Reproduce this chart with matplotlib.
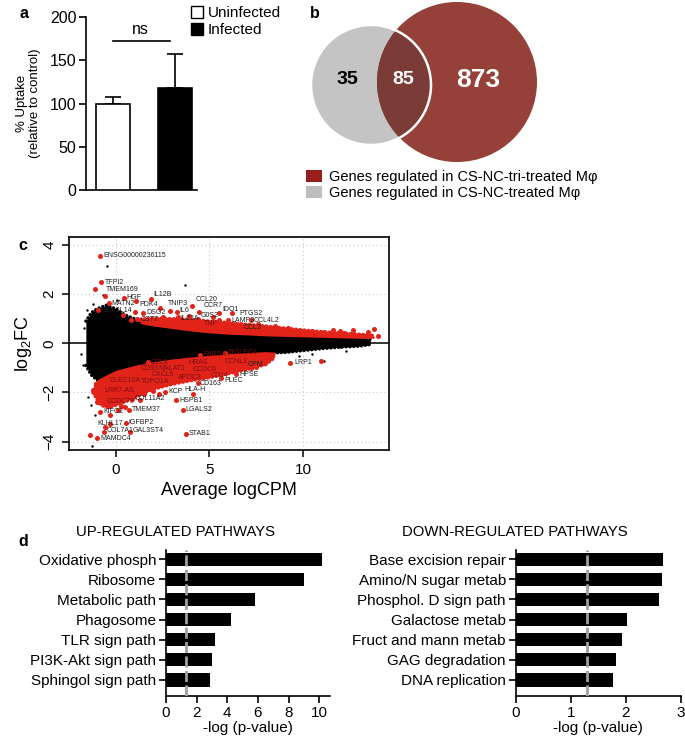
import matplotlib.pyplot as plt
import numpy as np
from matplotlib.patches import Circle, Patch

plt.rcParams['font.family'] = ['Liberation Sans', 'DejaVu Sans']
plt.rcParams['mathtext.fontset'] = 'custom'
plt.rcParams['mathtext.rm'] = 'Liberation Sans'

# ---------------- data ----------------
# panel a
uptake_groups = ['Uninfected', 'Infected']
uptake_mean = [100, 118]
uptake_err = [8, 39]
uptake_colors = ['white', 'black']

# panel b
venn_only_nc = 35
venn_both = 85
venn_only_tri = 873
venn_labels = ['Genes regulated in CS-NC-tri-treated Mφ',
               'Genes regulated in CS-NC-treated Mφ']

# panel c: envelope of the dense black cloud (non-significant genes)
cloud_x = [-1.6, -1.3, -1.0, -0.5, 0, 0.5, 1, 1.5, 2, 3, 4, 5, 6, 7, 8, 9, 10, 11, 12, 13, 13.6]
cloud_hi = [0.9, 1.25, 1.4, 1.55, 1.4, 1.15, 1.0, 0.88, 0.8, 0.68, 0.58, 0.5, 0.44, 0.4, 0.36,
            0.33, 0.3, 0.28, 0.26, 0.24, 0.15]
cloud_lo = [-0.9, -1.3, -1.5, -1.5, -1.3, -1.1, -0.95, -0.85, -0.78, -0.66, -0.58, -0.5, -0.45,
            -0.42, -0.4, -0.38, -0.3, -0.22, -0.16, -0.12, -0.05]
# dense red bands (significant up / down)
up_x = [1.3, 2, 3, 4, 5, 6, 7, 8, 9, 10, 11, 12, 13, 13.8]
up_hi = [0.95, 1.0, 0.98, 0.95, 0.88, 0.82, 0.75, 0.68, 0.6, 0.52, 0.45, 0.4, 0.35, 0.3]
up_lo = [0.8, 0.7, 0.6, 0.5, 0.42, 0.37, 0.34, 0.3, 0.28, 0.26, 0.24, 0.22, 0.2, 0.2]
dn_x = [-1.2, -0.8, -0.4, 0, 0.5, 1.0, 1.5, 2, 3, 4, 5, 6, 7, 8, 8.5]
dn_hi = [-1.6, -1.4, -1.25, -1.1, -1.0, -0.9, -0.82, -0.75, -0.64, -0.56, -0.49, -0.43, -0.38,
         -0.34, -0.36]
dn_lo = [-2.0, -2.5, -2.6, -2.5, -2.35, -2.2, -2.0, -1.85, -1.65, -1.5, -1.38, -1.22, -1.05,
         -0.85, -0.55]

# labelled genes: name, logCPM, logFC
gene_names = ['ENSG00000236115', 'TFPI2', 'TMEM169', 'HGF', 'IL12B', 'MATN2', 'PDK4', 'BCL2L14',
              'DSG2', 'TNIP3', 'IL6', 'CCL20', 'CCR7', 'IDO1', 'PTGS2', 'G0S2', 'IL23A', 'CST7',
              'LAMP3', 'CCL4L2', 'CCL3', 'TNF',
              'FARSA', 'SIGLEC1', 'LRP1', 'CCL8', 'CD93', 'MALAT1', 'HRAS', 'CCDC6', 'CXCL6',
              'APOC3', 'TOPO1A', 'CLEC10A', 'LRR7-AS', 'CCDC78', 'COL11A2', 'KIFC2', 'TMEM37',
              'KLHL17', 'IGFBP2', 'COL7A1', 'GAL3ST4', 'MAMDC4', 'STAB1', 'HSPB1', 'LGALS2',
              'KCP', 'HLA-H', 'CD163', 'PLEC', 'HPSE', 'CD14', 'CCNL2', 'CPM']
gene_x = [-0.86, -0.77, -1.12, 0.43, 1.87, -0.36, 1.07, -0.93, 1.45, 2.89, 3.28, 4.05, 4.44,
          5.51, 6.19, 4.4, 3.30, 1.14, 6.0, 7.2, 7.97, 4.55,
          4.5, 5.85, 9.3, 1.7, 1.18, 2.15, 3.72, 4.0, 1.8, 3.2, 1.2, -0.48, -0.75, -0.66, 0.88,
          -0.82, 0.7, -0.55, 0.57, -0.64, 0.76, -1.0, 3.74, 3.24, 3.6, 2.65, 4.13, 4.38, 5.63,
          6.42, 4.85, 5.7, 6.95]
gene_y = [3.55, 2.48, 2.2, 1.85, 1.80, 1.65, 1.72, 1.36, 1.25, 1.33, 1.28, 1.52, 1.29, 1.25,
          1.22, 0.98, 1.06, 0.98, 0.95, 0.93, 0.68, 0.82,
          -0.47, -0.4, -0.79, -0.78, -1.0, -1.0, -0.78, -1.05, -1.26, -1.38, -1.55, -1.52,
          -1.93, -2.35, -2.26, -2.78, -2.71, -3.4, -3.25, -3.59, -3.59, -3.86, -3.69, -2.30,
          -2.71, -1.97, -2.07, -1.6, -1.42, -1.26, -1.3, -0.75, -0.88]
# where each label text starts (left edge, centre line)
label_x = [-0.68, -0.59, -0.53, 0.58, 2.03, -0.23, 1.28, -0.70, 1.62, 2.76, 3.42, 4.28, 4.67,
           5.70, 6.6, 4.55, 3.45, 1.34, 6.16, 7.38, 6.84, 4.71,
           4.67, 6.0, 9.52, 1.86, 1.34, 2.3, 3.87, 4.13, 1.94, 3.33, 1.34, -0.32, -0.59, -0.5,
           1.02, -0.68, 0.84, -0.98, 0.66, -0.50, 0.92, -0.82, 3.90, 3.39, 3.74, 2.8, 3.69,
           4.49, 5.78, 6.63, 5.05, 5.83, 7.06]
label_y = [3.55, 2.48, 2.17, 1.88, 1.99, 1.62, 1.58, 1.33, 1.25, 1.62, 1.33, 1.79, 1.52, 1.38,
           1.22, 1.12, 1.02, 0.98, 0.92, 0.92, 0.65, 0.82,
           -0.47, -0.38, -0.79, -0.77, -1.02, -1.02, -0.77, -1.06, -1.26, -1.38, -1.56, -1.52,
           -1.94, -2.37, -2.26, -2.78, -2.68, -3.25, -3.24, -3.55, -3.55, -3.86, -3.66, -2.33,
           -2.71, -1.97, -1.90, -1.63, -1.53, -1.29, -1.32, -0.75, -0.88]
in_band = {'FARSA', 'SIGLEC1', 'CCL8', 'CD93', 'MALAT1', 'HRAS', 'CCDC6', 'CXCL6', 'APOC3',
           'TOPO1A', 'CLEC10A', 'LRR7-AS', 'CCDC78', 'CD14', 'CCNL2', 'TNF'}

# other scattered significant genes
extra_red_x = [-0.59, 0.36, 1.02, 0.8, 2.35, 3.2, 2.5, 3.9, 5.2, 5.5, 6.7, 7.6, 8.5, 9.2, 10.5,
               11.6, 12.2, 12.7, 13.5, 13.8, 14.0, 11.1, 12.0,
               -1.39, -0.32, -0.37, -0.32, -1.21, 0.1, 0.3, 1.5, 2.0, 2.3, 10.96, 7.5, 8.3,
               -1.0, -0.9, 0.5, 1.3, 6.0, 7.2]
extra_red_y = [1.92, 1.15, 1.29, 0.95, 1.43, 0.95, 1.05, 1.1, 1.05, 0.95, 0.75, 0.8, 0.72, 0.6,
               0.5, 0.54, 0.42, 0.54, 0.45, 0.58, 0.31, 0.45, 0.5,
               -3.73, -2.91, -2.57, -3.28, -1.9, -2.7, -2.55, -2.05, -1.95, -2.05, -0.72, -0.95,
               -0.6, -2.4, -2.1, -2.6, -2.3, -1.1, -1.0]
# scattered non-significant genes
extra_black_x = [-0.45, 3.69, -1.87, -1.25, 11.98, 13.05, 12.6, 13.3, -1.3, -1.5, -1.1, -0.68,
                 -1.55, -1.2, 0.05, 10.5, 11.1, 9.8, 12.3, -1.7, -1.75, 13.4, 12.9, 11.5]
extra_black_y = [3.15, 2.37, -0.45, -4.18, -0.16, 0.23, 0.28, 0.12, -2.5, -2.2, -2.9, 1.96,
                 1.35, 1.6, 1.75, -0.45, -0.72, -0.5, -0.3, 0.6, -0.9, -0.05, 0.05, 0.35]

# panel d
up_paths = ['Oxidative phosph', 'Ribosome', 'Metabolic path', 'Phagosome', 'TLR sign path',
            'PI3K-Akt sign path', 'Sphingol sign path']
up_vals = [10.15, 9.0, 5.8, 4.22, 3.2, 3.02, 2.89]
dn_paths = ['Base excision repair', 'Amino/N sugar metab', 'Phosphol. D sign path',
            'Galactose metab', 'Fruct and mann metab', 'GAG degradation', 'DNA replication']
dn_vals = [2.67, 2.66, 2.61, 2.03, 1.93, 1.82, 1.76]
p_cut = 1.3

# ---------------- figure ----------------
W, H = 685, 740
fig = plt.figure(figsize=(W / 100, H / 100), dpi=100)


def px_axes(l, t, r, b):
    return fig.add_axes([l / W, 1 - b / H, (r - l) / W, (b - t) / H])


def panel_tag(s, x, y):
    fig.text(x / W, 1 - y / H, s, fontsize=11.5, fontweight='bold', ha='left', va='center')


# ---- a ----
ax = px_axes(86, 17.3, 197, 190)
xa = np.arange(len(uptake_groups))
ax.bar(xa, uptake_mean, width=0.55, color=uptake_colors, edgecolor='black', linewidth=1.2,
       zorder=3)
ax.errorbar(xa, uptake_mean, yerr=[[0, 0], uptake_err], fmt='none', ecolor='black',
            elinewidth=1.2, capsize=5.5, capthick=1.2, zorder=2)
ax.plot([xa[0], xa[1] - 0.08], [173, 173], color='black', lw=1.2)
ax.text(0.44, 177, 'ns', ha='center', va='bottom', fontsize=11.5)
ax.set_xlim(-0.435, 1.355)
ax.set_ylim(0, 200)
ax.set_yticks([0, 50, 100, 150, 200])
ax.tick_params(axis='y', labelsize=11.5, length=5, width=1.2, pad=2)
ax.tick_params(axis='x', length=0, labelbottom=False)
for s in ['top', 'right']:
    ax.spines[s].set_visible(False)
for s in ['left', 'bottom']:
    ax.spines[s].set_linewidth(1.2)
ax.set_ylabel('% Uptake\n(relative to control)', fontsize=9.5, labelpad=6, linespacing=1.1)
fig.legend([Patch(facecolor=c, edgecolor='black', lw=1) for c in uptake_colors], uptake_groups,
           loc='upper left', bbox_to_anchor=(191 / W, 1 - 6 / H), frameon=False, fontsize=11,
           handlelength=0.8, handleheight=0.8, handletextpad=0.3, labelspacing=0.2,
           borderpad=0, borderaxespad=0)
panel_tag('a', 20, 14)

# ---- b ----
axb = px_axes(295, 0, 685, 168)
axb.set_xlim(295, 685)
axb.set_ylim(168, 0)
axb.axis('off')
grey = Circle((371, 85), 60, facecolor='#c4c4c4', edgecolor='none')
axb.add_patch(grey)
axb.add_patch(Circle((457, 82), 80, facecolor='#954039', edgecolor='none'))
ov = Circle((457, 82), 80, facecolor='#7b3b37', edgecolor='none')
axb.add_patch(ov)
ov.set_clip_path(grey)
axb.add_patch(Circle((371, 85), 60, fill=False, edgecolor='white', lw=1.8))
axb.text(347, 80, str(venn_only_nc), ha='center', va='center', fontsize=14, fontweight='bold')
axb.text(403, 80, str(venn_both), ha='center', va='center', fontsize=14, fontweight='bold',
         color='white')
axb.text(478, 80, str(venn_only_tri), ha='center', va='center', fontsize=19, fontweight='bold',
         color='white')
fig.legend([Patch(facecolor='#9a1f1c'), Patch(facecolor='#bdbdbd')], venn_labels,
           loc='upper left', bbox_to_anchor=(306 / W, 1 - 170 / H), frameon=False,
           fontsize=10.5, handlelength=1.1, handleheight=0.85, handletextpad=0.5,
           labelspacing=0.12, borderpad=0, borderaxespad=0)
panel_tag('b', 310, 13)

# ---- c ----
RED = '#e2231a'
axc = px_axes(69, 237, 389, 450)
axc.set_xlim(-2.5, 14.6)
axc.set_ylim(-4.34, 4.32)
axc.grid(True, ls=(0, (1, 2.5)), color='#c8c8c8', lw=0.8, zorder=0)
axc.fill_between(cloud_x, cloud_lo, cloud_hi, color='black', lw=0, zorder=2)
for yy in (cloud_hi, cloud_lo):
    axc.plot(cloud_x, yy, color='black', lw=2.4, ls=(0, (0.05, 1.1)),
             dash_capstyle='round', zorder=2)
axc.scatter(extra_black_x, extra_black_y, s=3, color='black', lw=0, zorder=2)
axc.fill_between(up_x, up_lo, up_hi, color=RED, lw=0, zorder=3)
axc.fill_between(dn_x, dn_lo, dn_hi, color=RED, lw=0, zorder=3)
for xx, yy in ((up_x, up_hi), (dn_x, dn_lo)):
    axc.plot(xx, yy, color=RED, lw=3.2, ls=(0, (0.05, 0.9)), dash_capstyle='round', zorder=3)
axc.scatter(extra_red_x, extra_red_y, s=13, color=RED, lw=0, zorder=4)
axc.scatter(gene_x, gene_y, s=13, color=RED, lw=0, zorder=4)
for n, lx, ly in zip(gene_names, label_x, label_y):
    axc.text(lx, ly, n, fontsize=5, ha='left', va='center', zorder=5,
             color='#7a1010' if n in in_band else '#1e1e1e')
axc.axhline(0, color='black', lw=1.1, zorder=4)
axc.set_xticks([0, 5, 10])
axc.set_yticks([-4, -2, 0, 2, 4])
axc.set_yticklabels(['\u22124', '\u22122', '0', '2', '4'], rotation=90, va='center')
axc.tick_params(labelsize=11, length=5, width=1.1, pad=4)
for s in axc.spines.values():
    s.set_linewidth(1.2)
axc.set_xlabel('Average logCPM', fontsize=13, labelpad=4)
axc.set_ylabel(r'log$_2$FC', fontsize=13, labelpad=6)
panel_tag('c', 18, 245)

# ---- d ----
for l, r, paths, vals, xmax, ticks, ttl, tx in (
        (166, 330, up_paths, up_vals, 10.7, [0, 2, 4, 6, 8, 10], 'UP-REGULATED PATHWAYS', 175),
        (515.7, 680.7, dn_paths, dn_vals, 3.0, [0, 1, 2, 3], 'DOWN-REGULATED PATHWAYS', 515)):
    axd = px_axes(l, 550, r, 696)
    yd = np.arange(len(paths))
    axd.barh(yd, vals, height=0.66, color='black', zorder=2)
    axd.axvline(p_cut, color='#a0a0a0', lw=2, ls=(0, (4, 1.2)), zorder=3)
    axd.set_ylim(6.8, -0.46)
    axd.set_xlim(0, xmax)
    axd.set_yticks(yd)
    axd.set_yticklabels(paths)
    axd.set_xticks(ticks)
    axd.tick_params(labelsize=11, length=5, width=1.2, pad=2)
    for s in ['top', 'right']:
        axd.spines[s].set_visible(False)
    for s in ['left', 'bottom']:
        axd.spines[s].set_linewidth(1.2)
    axd.set_xlabel('-log (p-value)', fontsize=11, labelpad=1)
    fig.text(tx / W, 1 - 532 / H, ttl, ha='center', va='center', fontsize=10.7)
panel_tag('d', 18, 541)

fig.savefig('out.png', dpi=100)
